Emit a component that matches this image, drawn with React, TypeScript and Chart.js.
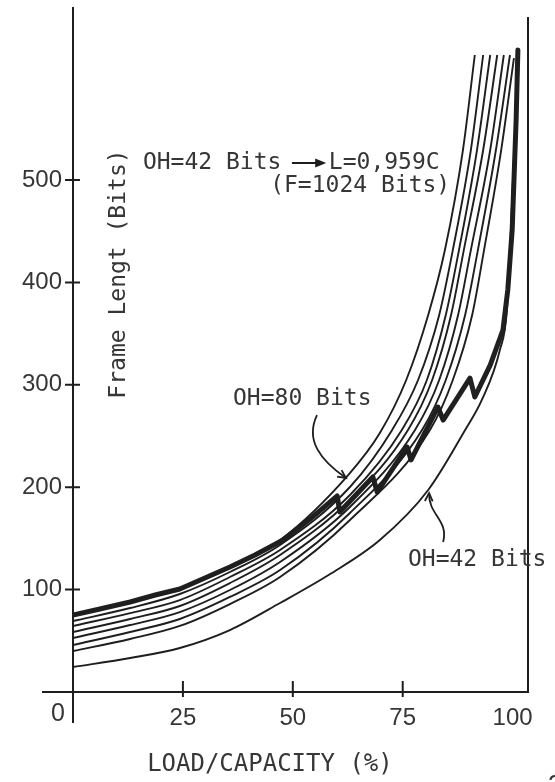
import React, { useEffect, useRef } from "react";
import { Chart, registerables } from "chart.js";

Chart.register(...registerables);

// ---- axes ----
const xTickValues = [25, 50, 75, 100];
const yTickValues = [100, 200, 300, 400, 500];
const xMax = 103.5;
const yMax = 668;

// ---- curves (load/capacity %, frame length bits), top to bottom at zero load ----
const loadOH80 = [0, 13.0, 24.3, 35.7, 47.1, 62.6, 69.8, 75.8, 80.8, 84.6, 88.7, 91.4];
const frameOH80 = [75.2, 87.9, 100.6, 122.1, 148.4, 211.9, 252.9, 304.7, 368.2, 431.6, 529.3, 622.1];

const loadCurve2 = [0, 13.0, 24.3, 35.7, 47.1, 63.0, 72.6, 78.5, 83.3, 86.4, 90.5, 93.3];
const frameCurve2 = [69.3, 82.0, 95.7, 117.2, 143.6, 200.2, 255.9, 304.7, 368.2, 431.6, 529.3, 622.1];

const loadCurve3 = [0, 13.0, 24.3, 35.7, 47.1, 63.0, 74.8, 80.5, 84.8, 87.8, 91.9, 94.9];
const frameCurve3 = [64.5, 77.1, 89.8, 112.3, 138.7, 192.4, 255.9, 304.7, 368.2, 431.6, 529.3, 622.1];

const loadCurve4 = [0, 13.0, 24.3, 35.7, 47.1, 63.0, 76.2, 81.7, 86.0, 88.9, 93.3, 96.5];
const frameCurve4 = [58.6, 71.3, 84.0, 106.4, 133.8, 187.5, 255.9, 304.7, 368.2, 431.6, 529.3, 622.1];

const loadCurve5 = [0, 13.0, 24.3, 35.7, 47.1, 63.0, 77.8, 83.3, 87.6, 90.5, 94.9, 98.0];
const frameCurve5 = [52.7, 65.4, 78.1, 99.6, 127.0, 180.7, 255.9, 304.7, 368.2, 431.6, 529.3, 622.1];

const loadCurve6 = [0, 13.0, 24.3, 35.7, 47.1, 63.0, 79.4, 84.8, 89.2, 92.1, 96.2, 99.4];
const frameCurve6 = [45.9, 58.6, 71.3, 92.8, 119.1, 174.8, 255.9, 304.7, 368.2, 431.6, 529.3, 622.1];

const loadCurve7 = [0, 13.0, 24.3, 35.7, 47.1, 63.0, 81.2, 86.4, 90.8, 93.5, 97.4, 100.3];
const frameCurve7 = [40.0, 51.8, 64.5, 85.9, 112.3, 168.0, 255.9, 304.7, 368.2, 431.6, 529.3, 619.1];

const loadOH42 = [0, 13.0, 24.3, 35.7, 47.1, 58.5, 69.8, 80.8, 89.2, 93.0, 97.1, 98.7, 99.9, 101.2];
const frameOH42 = [24.4, 33.2, 43.0, 60.5, 86.9, 115.2, 148.4, 197.3, 255.9, 285.2, 334.0, 373.0, 480.5, 617.2];

// heavy stepped curve (F = 1024 bits)
const loadF1024 = [0, 6.1, 13.0, 18.7, 24.3, 30.0, 35.7, 41.4, 47.8, 53.9, 60.1, 60.7, 68.2, 69.2, 76.0, 76.9, 83.0, 84.2, 90.3, 91.4, 94.9, 97.8, 98.9, 99.9, 100.8, 101.2];
const frameF1024 = [75.2, 81.1, 87.9, 94.7, 100.6, 111.3, 122.1, 133.8, 148.4, 168.9, 191.4, 175.8, 210.0, 195.3, 239.3, 226.6, 278.3, 265.6, 306.6, 288.1, 319.3, 353.5, 392.6, 451.2, 558.6, 627.0];

// ---- annotation anchors (data units) ----
const noteTop = { x: 15.9, y: 516.6 };
const noteTopArrow = { x0: 49.8, x1: 57.6 };
const noteTopResult = { x: 58.2 };
const noteTopSub = { x: 85.8, y: 494.1 };
const note80 = { x: 36.4, y: 286.1 };
const note80Arrow = [[55.5, 270.5], [52.8, 246.1], [56.2, 226.6], [62.1, 209.0]];
const note42 = { x: 76.2, y: 128.9 };
const note42Arrow = [[84.2, 146.5], [85.5, 168.0], [80.8, 172.9], [81.0, 194.3]];
const yTitlePos = { x: 10.5, y: 408.2 };
const xTitleX = 44.8;

const INK = "#1e1e1e";
const TEXT = "#363636";
const MONO = '"DejaVu Sans Mono", monospace';
const SANS = '"Liberation Sans", Arial, sans-serif';

const zip = (xs: number[], ys: number[]) => xs.map((x, i) => ({ x, y: ys[i] }));

function openHead(ctx: CanvasRenderingContext2D, tx: number, ty: number, fx: number, fy: number) {
  const ang = Math.atan2(ty - fy, tx - fx);
  const len = 9, spread = 0.45;
  ctx.beginPath();
  ctx.moveTo(tx - len * Math.cos(ang - spread), ty - len * Math.sin(ang - spread));
  ctx.lineTo(tx, ty);
  ctx.lineTo(tx - len * Math.cos(ang + spread), ty - len * Math.sin(ang + spread));
  ctx.stroke();
}

const decorations = {
  id: "decorations",
  afterDraw(chart: any) {
    const { ctx, chartArea: a, scales } = chart;
    const X = (v: number) => scales.x.getPixelForValue(v);
    const Y = (v: number) => scales.y.getPixelForValue(v);
    ctx.save();
    ctx.strokeStyle = INK;
    ctx.fillStyle = INK;
    ctx.lineWidth = 2;
    ctx.beginPath();
    ctx.moveTo(a.left - 31, a.bottom);
    ctx.lineTo(a.left, a.bottom);
    ctx.moveTo(a.left, a.bottom);
    ctx.lineTo(a.left, a.bottom + 31);
    ctx.moveTo(a.right, a.top + 9);
    ctx.lineTo(a.right, a.bottom + 1);
    for (const v of yTickValues) {
      const p = Y(v);
      ctx.moveTo(a.left - 8, p);
      ctx.lineTo(a.left + 7, p);
    }
    for (const v of xTickValues) {
      if (v >= 100) continue;
      const p = X(v);
      ctx.moveTo(p, a.bottom - 11);
      ctx.lineTo(p, a.bottom + 5);
    }
    ctx.stroke();

    // straight arrow in the top note
    const ay = Y(noteTop.y);
    const ax0 = X(noteTopArrow.x0), ax1 = X(noteTopArrow.x1);
    ctx.beginPath();
    ctx.moveTo(ax0, ay);
    ctx.lineTo(ax1 - 8, ay);
    ctx.stroke();
    ctx.beginPath();
    ctx.moveTo(ax1, ay);
    ctx.lineTo(ax1 - 11, ay - 4.5);
    ctx.lineTo(ax1 - 11, ay + 4.5);
    ctx.closePath();
    ctx.fill();

    // curly arrows
    ctx.lineWidth = 1.8;
    for (const arr of [note80Arrow, note42Arrow]) {
      const p = arr.map(([x, y]) => [X(x), Y(y)]);
      ctx.beginPath();
      ctx.moveTo(p[0][0], p[0][1]);
      ctx.bezierCurveTo(p[1][0], p[1][1], p[2][0], p[2][1], p[3][0], p[3][1]);
      ctx.stroke();
      openHead(ctx, p[3][0], p[3][1], p[2][0], p[2][1]);
    }

    // texts
    ctx.fillStyle = TEXT;
    ctx.font = `23px ${MONO}`;
    ctx.textBaseline = "middle";
    ctx.textAlign = "left";
    ctx.fillText("OH=42 Bits", X(noteTop.x), ay);
    ctx.fillText("L=0,959C", X(noteTopResult.x), ay);
    ctx.textAlign = "right";
    ctx.fillText("(F=1024 Bits)", X(noteTopSub.x), Y(noteTopSub.y));
    ctx.textAlign = "left";
    ctx.fillText("OH=80 Bits", X(note80.x), Y(note80.y));
    ctx.fillText("OH=42 Bits", X(note42.x), Y(note42.y));

    // axis titles
    ctx.save();
    ctx.translate(X(yTitlePos.x), Y(yTitlePos.y));
    ctx.rotate(-Math.PI / 2);
    ctx.textAlign = "center";
    ctx.fillText("Frame Lengt (Bits)", 0, 0);
    ctx.restore();

    ctx.textAlign = "center";
    ctx.font = `24px ${MONO}`;
    ctx.fillText("LOAD/CAPACITY (%)", X(xTitleX), a.bottom + 73);

    // origin label
    ctx.font = `25px ${SANS}`;
    ctx.fillText("0", a.left - 15, a.bottom + 22);

    // cut-off page number at the corner
    ctx.textAlign = "left";
    ctx.fillText("2", 548, 786);
    ctx.restore();
  },
};

export default function App() {
  const ref = useRef<HTMLCanvasElement | null>(null);

  useEffect(() => {
    if (!ref.current) return;
    const thinSeries: [string, number[], number[]][] = [
      ["OH=80 Bits", loadOH80, frameOH80],
      ["curve 2", loadCurve2, frameCurve2],
      ["curve 3", loadCurve3, frameCurve3],
      ["curve 4", loadCurve4, frameCurve4],
      ["curve 5", loadCurve5, frameCurve5],
      ["curve 6", loadCurve6, frameCurve6],
      ["curve 7", loadCurve7, frameCurve7],
      ["OH=42 Bits", loadOH42, frameOH42],
    ];
    const datasets: any[] = thinSeries.map(([label, xs, ys]) => ({
      label,
      data: zip(xs, ys),
      borderColor: INK,
      borderWidth: 1.9,
      pointRadius: 0,
      fill: false,
      cubicInterpolationMode: "monotone",
    }));
    datasets.push({
      label: "OH=42 Bits, F=1024 Bits",
      data: zip(loadF1024, frameF1024),
      borderColor: "#202020",
      borderWidth: 5,
      pointRadius: 0,
      fill: false,
      tension: 0,
      borderJoinStyle: "round",
      borderCapStyle: "round",
    });

    const chart = new Chart(ref.current, {
      type: "line",
      data: { datasets },
      options: {
        animation: false,
        responsive: true,
        maintainAspectRatio: false,
        layout: { padding: { top: 8, right: 27, left: 0, bottom: 0 } },
        plugins: { legend: { display: false }, tooltip: { enabled: false } },
        scales: {
          x: {
            type: "linear",
            min: 0,
            max: xMax,
            grid: { display: false, drawTicks: false, tickLength: 0 },
            border: { display: true, color: INK, width: 2 },
            ticks: {
              font: { family: SANS, size: 24 },
              color: TEXT,
              padding: 12,
              maxRotation: 0,
              autoSkip: false,
            },
            afterBuildTicks: (s: any) => {
              s.ticks = xTickValues.map((v) => ({ value: v }));
            },
            afterFit: (s: any) => {
              s.height = 90;
              s.paddingLeft = 0;
              s.paddingRight = 0;
            },
          },
          y: {
            type: "linear",
            min: 0,
            max: yMax,
            grid: { display: false, drawTicks: false, tickLength: 0 },
            border: { display: true, color: INK, width: 2 },
            ticks: {
              font: { family: SANS, size: 24 },
              color: TEXT,
              padding: 11,
              autoSkip: false,
            },
            afterBuildTicks: (s: any) => {
              s.ticks = yTickValues.map((v) => ({ value: v }));
            },
            afterFit: (s: any) => {
              s.width = 73;
              s.paddingTop = 0;
              s.paddingBottom = 0;
            },
          },
        },
      } as any,
      plugins: [decorations],
    });
    return () => chart.destroy();
  }, []);

  return (
    <div style={{ position: "fixed", left: 0, top: 0, width: 555, height: 782, background: "#fff" }}>
      <canvas ref={ref} />
    </div>
  );
}
